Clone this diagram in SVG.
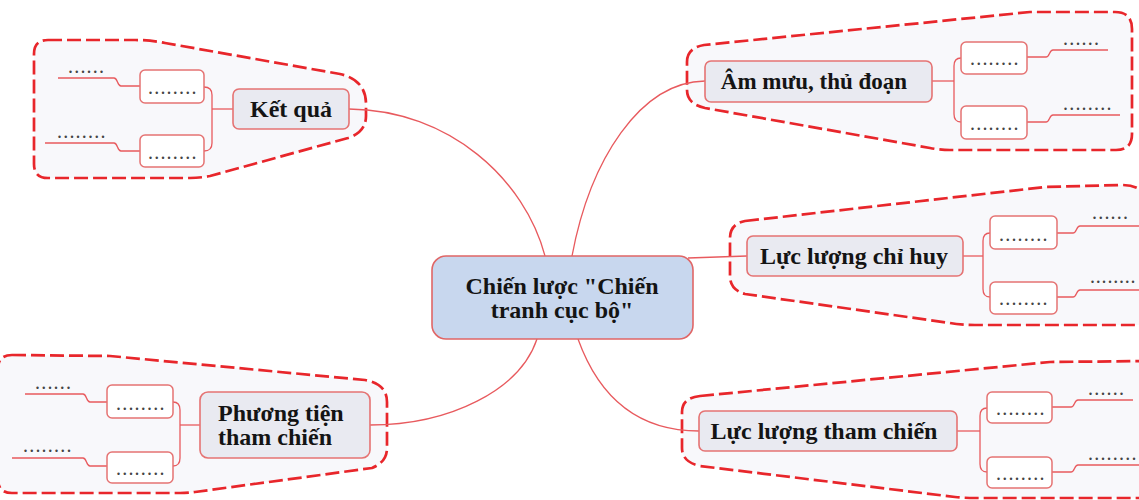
<svg xmlns="http://www.w3.org/2000/svg" width="1139" height="500" viewBox="0 0 1139 500">
  <defs>
    <style>
      .zone { fill: #f8f8fb; stroke: #e8262b; stroke-width: 2.7; stroke-dasharray: 14 5; stroke-linejoin: round; }
      .link { fill: none; stroke: #e85a5e; stroke-width: 1.3; }
      .branch { fill: #e9eaf1; stroke: #e57373; stroke-width: 1.6; }
      .leaf { fill: #ffffff; stroke: #e57373; stroke-width: 1.5; }
      .root { fill: #c8d7ee; stroke: #e06666; stroke-width: 1.6; }
      .label { font-family: "Liberation Serif", "Times New Roman", serif; font-weight: bold; font-size: 24px; fill: #141414; }
      .dots { font-family: "Liberation Serif", "Times New Roman", serif; font-size: 20px; letter-spacing: 1.2px; fill: #444444; }
    </style>
  </defs>

  <rect width="1139" height="500" fill="#ffffff"/>

  <!-- dashed zones around each branch -->
  <g id="zones">
    <path id="zone-ket-qua" class="zone" d="M48,40 L135,40 Q150,40 165,43 L340,74 Q366,80 366,104 L366,116 Q366,132 348,138 L210,176 Q200,178 190,178 L48,178 Q34,178 34,164 L34,54 Q34,40 48,40 Z"/>
    <path id="zone-am-muu" class="zone" d="M687,62 Q687,48 704,45 L1030,12 L1115,12 Q1132,12 1132,29 L1132,134 Q1132,150 1116,150 L950,150 Q940,150 930,148 L705,108 Q687,104 687,90 Z"/>
    <path id="zone-chi-huy" class="zone" d="M745,221 L1045,187 L1122,185 Q1138,185 1146,195 L1150,325 L975,325 Q960,325 950,323 L745,294 Q730,290 730,276 L730,238 Q730,224 745,221 Z"/>
    <path id="zone-tham-chien" class="zone" d="M700,396 L1050,362 L1150,361 L1150,498 L975,498 Q965,498 955,497 L700,466 Q682,462 682,448 L682,412 Q682,398 700,396 Z"/>
    <path id="zone-phuong-tien" class="zone" d="M12,355 L110,356 L365,380 Q387,384 387,402 L387,448 Q387,462 372,468 L195,492 Q188,493 180,493 L12,493 Q-2,493 -2,479 L-2,369 Q-2,355 12,355 Z"/>
  </g>

  <!-- connectors -->
  <g id="connectors">
    <!-- root to branches -->
    <path class="link" d="M349,109 C450,110 525,180 545,256"/>
    <path class="link" d="M572,256 C590,160 640,82 705,81"/>
    <path class="link" d="M688,258 L747,256"/>
    <path class="link" d="M537,339 C520,390 450,425 370,425"/>
    <path class="link" d="M578,339 C600,400 640,431 699,431"/>

    <!-- Kết quả -->
    <path class="link" d="M233,109 H212"/>
    <path class="link" d="M204,87 Q212,87 212,95 L212,143 Q212,151 204,151"/>
    <path class="link" d="M140,86 H121 C117,86 118,78 114,78 H58"/>
    <path class="link" d="M140,151 H121 C117,151 118,143 114,143 H45"/>

    <!-- Âm mưu, thủ đoạn -->
    <path class="link" d="M932,81 H954"/>
    <path class="link" d="M961,58 Q954,58 954,66 L954,114 Q954,122 961,122"/>
    <path class="link" d="M1027,57 H1046 C1050,57 1049,50 1053,50 H1108"/>
    <path class="link" d="M1027,122 H1046 C1050,122 1049,115 1053,115 H1120"/>

    <!-- Lực lượng chỉ huy -->
    <path class="link" d="M963,256 H983"/>
    <path class="link" d="M990,233 Q983,233 983,241 L983,289 Q983,297 990,297"/>
    <path class="link" d="M1057,233 H1073 C1077,233 1076,226 1080,226 H1145"/>
    <path class="link" d="M1057,297 H1073 C1077,297 1076,290 1080,290 H1145"/>

    <!-- Lực lượng tham chiến -->
    <path class="link" d="M957,431 H980"/>
    <path class="link" d="M987,408 Q980,408 980,416 L980,464 Q980,472 987,472"/>
    <path class="link" d="M1052,407 H1071 C1075,407 1074,400 1078,400 H1133"/>
    <path class="link" d="M1052,472 H1071 C1075,472 1074,465 1078,465 H1145"/>

    <!-- Phương tiện tham chiến -->
    <path class="link" d="M200,425 H180"/>
    <path class="link" d="M173,402 Q180,402 180,410 L180,458 Q180,466 173,466"/>
    <path class="link" d="M107,402 H90 C86,402 87,394 83,394 H25"/>
    <path class="link" d="M107,466 H90 C86,466 87,458 83,458 H12"/>
  </g>

  <!-- central topic -->
  <g id="root">
    <rect class="root" x="432" y="256" width="261" height="83" rx="14"/>
    <text class="label" x="562" y="294" text-anchor="middle">Chiến lược "Chiến</text>
    <text class="label" x="562" y="318" text-anchor="middle">tranh cục bộ"</text>
  </g>

  <g id="ket-qua">
    <rect class="branch" x="233" y="89" width="116" height="40" rx="6"/>
    <text class="label" x="291" y="117" text-anchor="middle">Kết quả</text>
    <g id="ket-qua-1">
      <rect class="leaf" x="140" y="70" width="64" height="33" rx="5"/>
      <text class="dots" x="148" y="94">........</text>
      <text class="dots" x="68" y="73">......</text>
    </g>
    <g id="ket-qua-2">
      <rect class="leaf" x="140" y="135" width="64" height="32" rx="5"/>
      <text class="dots" x="148" y="159">........</text>
      <text class="dots" x="57" y="138">........</text>
    </g>
  </g>

  <g id="am-muu">
    <rect class="branch" x="705" y="61" width="227" height="41" rx="6"/>
    <text class="label" x="814" y="89" text-anchor="middle" style="font-size:23px">Âm mưu, thủ đoạn</text>
    <g id="am-muu-1">
      <rect class="leaf" x="961" y="42" width="66" height="32" rx="5"/>
      <text class="dots" x="970" y="65">........</text>
      <text class="dots" x="1063" y="45">......</text>
    </g>
    <g id="am-muu-2">
      <rect class="leaf" x="961" y="106" width="66" height="33" rx="5"/>
      <text class="dots" x="970" y="130">........</text>
      <text class="dots" x="1063" y="110">........</text>
    </g>
  </g>

  <g id="chi-huy">
    <rect class="branch" x="747" y="236" width="216" height="40" rx="6"/>
    <text class="label" x="854" y="264" text-anchor="middle">Lực lượng chỉ huy</text>
    <g id="chi-huy-1">
      <rect class="leaf" x="990" y="216" width="67" height="33" rx="5"/>
      <text class="dots" x="999" y="241">........</text>
      <text class="dots" x="1092" y="219">......</text>
    </g>
    <g id="chi-huy-2">
      <rect class="leaf" x="990" y="282" width="67" height="32" rx="5"/>
      <text class="dots" x="999" y="305">........</text>
      <text class="dots" x="1090" y="283" style="letter-spacing:0.8px">........</text>
    </g>
  </g>

  <g id="tham-chien">
    <rect class="branch" x="699" y="411" width="258" height="40" rx="6"/>
    <text class="label" x="824" y="439" text-anchor="middle">Lực lượng tham chiến</text>
    <g id="tham-chien-1">
      <rect class="leaf" x="987" y="392" width="65" height="31" rx="5"/>
      <text class="dots" x="996" y="415">........</text>
      <text class="dots" x="1088" y="395">......</text>
    </g>
    <g id="tham-chien-2">
      <rect class="leaf" x="987" y="457" width="65" height="31" rx="5"/>
      <text class="dots" x="996" y="480">........</text>
      <text class="dots" x="1088" y="460">........</text>
    </g>
  </g>

  <g id="phuong-tien">
    <rect class="branch" x="200" y="392" width="170" height="66" rx="8"/>
    <text class="label" x="218" y="421">Phương tiện</text>
    <text class="label" x="218" y="445">tham chiến</text>
    <g id="phuong-tien-1">
      <rect class="leaf" x="107" y="385" width="66" height="33" rx="5"/>
      <text class="dots" x="116" y="410">........</text>
      <text class="dots" x="35" y="389">......</text>
    </g>
    <g id="phuong-tien-2">
      <rect class="leaf" x="107" y="452" width="66" height="31" rx="5"/>
      <text class="dots" x="116" y="475">........</text>
      <text class="dots" x="23" y="452">........</text>
    </g>
  </g>
</svg>
